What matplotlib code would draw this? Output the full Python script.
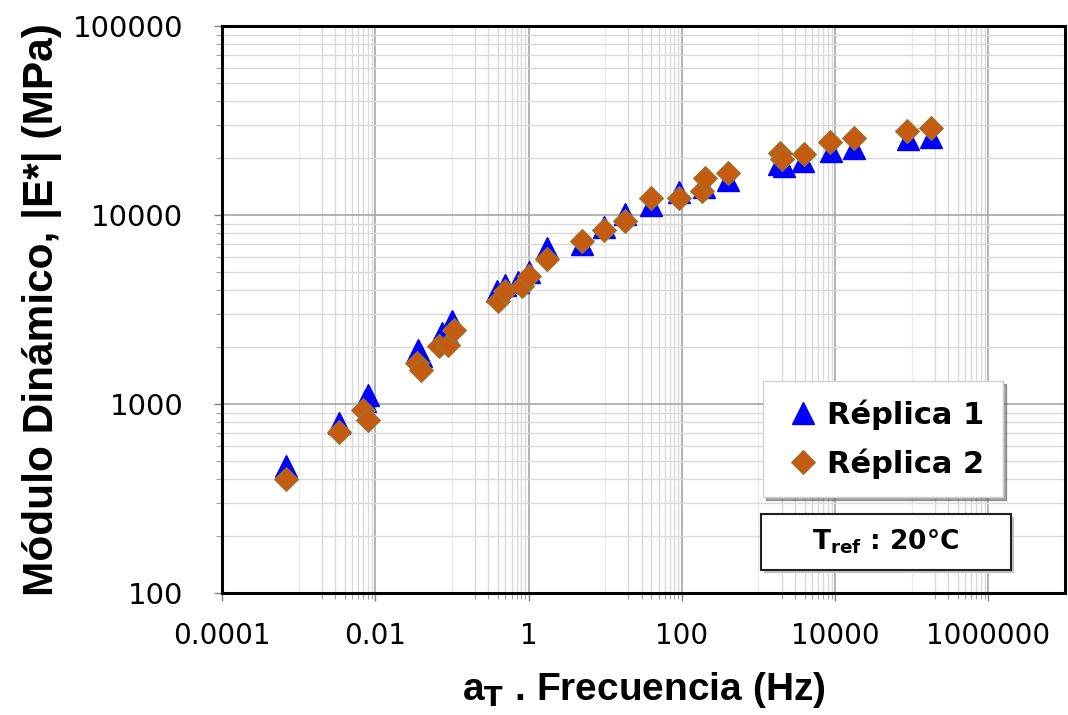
import matplotlib

matplotlib.use("Agg")
import matplotlib.pyplot as plt
from matplotlib.patches import Rectangle

# Réplica 1 (triangles)
freq_r1 = [6.8e-4, 3.4e-3, 7.4e-3, 8.1e-3, 0.036, 0.040, 0.074, 0.089, 0.10,
           0.385, 0.495, 0.73, 1.0, 1.73, 4.96, 9.7, 18.2, 39.9, 92.5, 196,
           403, 1830, 2127, 3845, 8850, 17810, 88400, 178600]
mod_r1 = [471, 793, 1032, 1120, 1940, 1788, 2378, 2330, 2740,
          3952, 4288, 4447, 5024, 6710, 6985, 8594, 10070, 11240, 13180, 14010,
          15260, 18540, 18160, 19300, 21810, 22730, 25160, 25990]

# Réplica 2 (rombos)
freq_r2 = [6.8e-4, 3.4e-3, 6.9e-3, 8.0e-3, 0.035, 0.040, 0.067, 0.090, 0.105,
           0.397, 0.495, 0.818, 1.0, 1.73, 4.96, 9.7, 18.2, 39.9, 92.5, 183,
           202, 400, 1886, 2045, 3963, 8650, 17810, 86800, 178600]
mod_r2 = [402, 707, 925, 819, 1650, 1520, 2020, 2062, 2476,
          3498, 3952, 4200, 4745, 5817, 7271, 8318, 9284, 12350, 12350, 13390,
          15630, 16760, 21380, 19710, 20950, 24340, 25470, 27840, 29020]

x_ticks = [1e-4, 1e-2, 1, 100, 1e4, 1e6]
x_tick_labels = ["0.0001", "0.01", "1", "100", "10000", "1000000"]
y_ticks = [100, 1000, 10000, 100000]
y_tick_labels = ["100", "1000", "10000", "100000"]

W, H = 1068, 715
fig = plt.figure(figsize=(W / 100, H / 100), dpi=100)
ax = fig.add_axes([222 / W, 1 - 593 / H, (1065 - 222) / W, (593 - 26) / H])
ax.set_xscale("log")
ax.set_yscale("log")
ax.set_xlim(1e-4, 1e7)
ax.set_ylim(100, 1e5)

# grid like the spreadsheet one
x_minor = [k * 10.0 ** n for n in (-3, -1, 1, 3, 5) for k in range(2, 10)]
y_minor = [k * 10.0 ** n for n in (2, 3, 4) for k in range(2, 10)]
ax.set_xticks(x_ticks)
ax.set_xticklabels(x_tick_labels)
ax.set_xticks(x_minor, minor=True)
ax.set_xticklabels([], minor=True)
ax.set_yticks(y_ticks)
ax.set_yticklabels(y_tick_labels)
ax.set_yticks(y_minor, minor=True)
ax.set_yticklabels([], minor=True)
ax.grid(which="major", color="#a6a6a6", lw=1.2)
ax.grid(which="minor", color="#d9d9d9", lw=1.0)
for n in (-3, -1, 1, 3, 5):
    ax.axvline(10.0 ** n, color="#ececec", lw=1.0, zorder=0.5)
ax.set_axisbelow(True)

for s in ax.spines.values():
    s.set_linewidth(2.2)
    s.set_color("black")

ax.tick_params(which="major", direction="out", length=6, width=1, color="#808080")
ax.tick_params(which="minor", direction="out", length=4, width=0.8, color="#a0a0a0")
ax.tick_params(axis="x", which="major", pad=15)
ax.tick_params(axis="y", which="major", pad=22)
for lab in ax.get_xticklabels():
    lab.set_fontfamily("DejaVu Sans")
    lab.set_fontsize(20)
for lab in ax.get_yticklabels():
    lab.set_fontfamily("DejaVu Sans")
    lab.set_fontsize(21)

ax.plot(freq_r1, mod_r1, linestyle="none", marker="^", markersize=16,
        color="#0000ff", markeredgecolor="#0000ff", label="Réplica 1", zorder=3)
ax.plot(freq_r2, mod_r2, linestyle="none", marker="D", markersize=12.5,
        color="#c55a11", markeredgecolor="#8c7a3a", markeredgewidth=0.8,
        label="Réplica 2", zorder=4)

ax.set_xlabel("a$_\\mathbf{T}$ . Frecuencia (Hz)", fontfamily="Liberation Sans",
              fontweight="bold", fontsize=28)
ax.xaxis.set_label_coords(0.5, -0.135)
ax.set_ylabel("Módulo Dinámico, |E*| (MPa)", fontfamily="Liberation Sans",
              fontweight="bold", fontsize=30.5)
ax.yaxis.set_label_coords(-0.19, 0.5)

leg = ax.legend(loc="upper left", bbox_to_anchor=(763 / W, 1 - 381 / H),
                bbox_transform=fig.transFigure, borderaxespad=0,
                prop={"family": "DejaVu Sans", "weight": "bold", "size": 22},
                frameon=True, fancybox=False, shadow=True, framealpha=1,
                edgecolor="#d0d0d0", handletextpad=0.1, borderpad=0.6,
                labelspacing=0.6, handlelength=1.4)
leg.get_frame().set_linewidth(1.0)

# reference temperature box
shadow = Rectangle((764 / W, 1 - 573 / H), (1011 - 761) / W, (570 - 514) / H,
                   transform=fig.transFigure, facecolor="#c0c0c0", edgecolor="none",
                   zorder=4)
box = Rectangle((761 / W, 1 - 570 / H), (1011 - 761) / W, (570 - 514) / H,
                transform=fig.transFigure, facecolor="white", edgecolor="#202020",
                lw=1.5, zorder=5)
fig.patches.extend([shadow, box])
fig.text(886 / W, 1 - 542 / H, "T$_{\\mathbf{ref}}$ : 20°C", ha="center", va="center",
         fontfamily="DejaVu Sans", fontweight="bold", fontsize=19, zorder=6)

fig.savefig("out.png", dpi=100)
